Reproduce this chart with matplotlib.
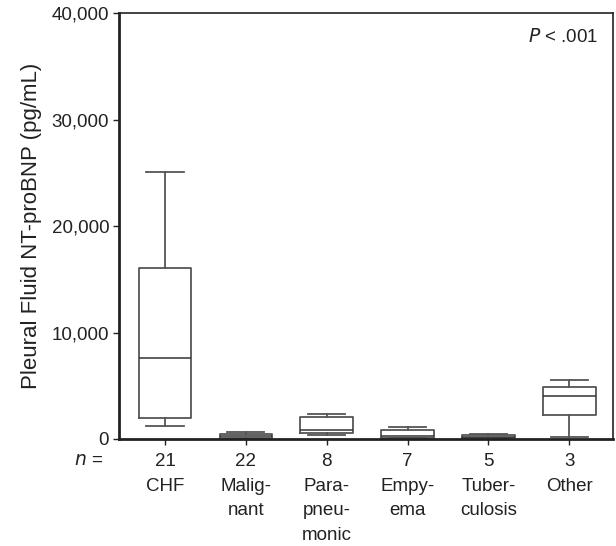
import matplotlib
matplotlib.use("Agg")
import matplotlib.pyplot as plt
from matplotlib.ticker import FuncFormatter

plt.rcParams['font.family'] = ['Liberation Sans', 'DejaVu Sans']

categories = ["CHF", "Malig-\nnant", "Para-\npneu-\nmonic", "Empy-\nema", "Tuber-\nculosis", "Other"]
n_counts = [21, 22, 8, 7, 5, 3]
whisker_low = [1250, 20, 370, 60, 40, 220]
q1 = [2000, 70, 560, 80, 70, 2210]
median = [7630, 250, 810, 290, 200, 4020]
q3 = [16050, 480, 2030, 840, 350, 4860]
whisker_high = [25100, 700, 2300, 1100, 440, 5580]
y_ticks = [0, 10000, 20000, 30000, 40000]

fig = plt.figure(figsize=(6.16, 5.46), dpi=100)
ax = fig.add_axes([0.193, 0.196, 0.802, 0.780])

stats = []
for i, c in enumerate(categories):
    stats.append(dict(label=c, whislo=whisker_low[i], q1=q1[i], med=median[i],
                      q3=q3[i], whishi=whisker_high[i], fliers=[]))

box_col = "#555555"
positions = list(range(1, len(categories) + 1))
ax.bxp(stats, positions=positions, widths=0.65, capwidths=0.46, showfliers=False,
       boxprops=dict(color=box_col, linewidth=1.3),
       whiskerprops=dict(color=box_col, linewidth=1.3),
       capprops=dict(color=box_col, linewidth=1.3),
       medianprops=dict(color="#333333", linewidth=1.1))

ax.set_xlim(0.43, 6.54)
ax.set_ylim(0, 40000)
ax.set_yticks(y_ticks)
ax.yaxis.set_major_formatter(FuncFormatter(lambda v, p: f"{int(v):,}"))
ax.set_xticks(positions)
ax.set_xticklabels([f"{n}\n{c}" for n, c in zip(n_counts, categories)],
                   linespacing=1.6, va="top")

for side in ["left", "bottom", "right", "top"]:
    ax.spines[side].set_color("#222222")
    ax.spines[side].set_linewidth(1.2)
ax.spines["left"].set_linewidth(2.0)
ax.spines["bottom"].set_linewidth(2.0)

ax.tick_params(axis="both", labelsize=13.5, colors="#222222", length=4, width=1.0)
ax.tick_params(axis="x", pad=6)
ax.tick_params(axis="y", pad=3)

ax.set_ylabel("Pleural Fluid NT-proBNP (pg/mL)", fontsize=16, color="#222222", labelpad=7)

ax.text(-0.032, -0.03, r"$\it{n}$ =", transform=ax.transAxes, ha="right", va="top",
        fontsize=13.5, color="#222222")
ax.text(0.97, 0.965, r"$\it{P}$ < .001", transform=ax.transAxes, ha="right", va="top",
        fontsize=13.5, color="#222222")

fig.savefig("out.png", dpi=100, facecolor="white")
